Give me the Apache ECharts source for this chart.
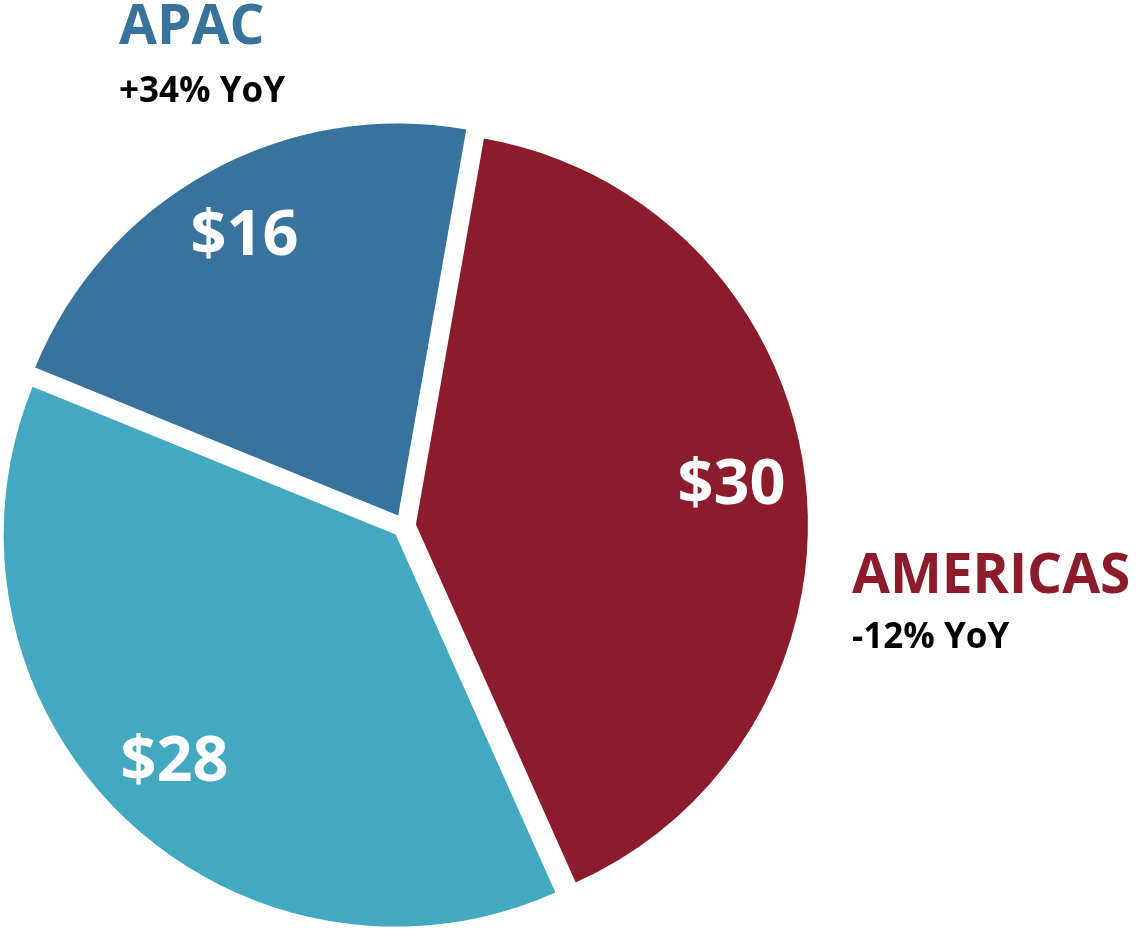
<!DOCTYPE html>
<html>
<head>
<meta charset="utf-8">
<title>Revenue by region</title>
<script src="https://cdn.jsdelivr.net/npm/echarts@6/dist/echarts.min.js"></script>
<style>
  html, body { margin: 0; padding: 0; background: #ffffff; }
  #chart { width: 1141px; height: 930px; }
</style>
</head>
<body>
<div id="chart"></div>
<script>
// Revenue by region ($), with year-over-year change for the called-out regions
const categories = ['AMERICAS', 'EMEA', 'APAC'];
const revenue = [30, 28, 16];
const yoyChange = ['-12% YoY', '', '+34% YoY'];
const sliceColors = ['#8C1C2B', '#42A9C1', '#37739D'];

const FONT = '"Open Sans", Lato, sans-serif';
const CENTER = [404, 526];
const RADIUS = 392;

const chart = echarts.init(document.getElementById('chart'), null, { renderer: 'canvas' });

function sliceData(transparent) {
  return revenue.map((v, i) => ({
    value: v,
    name: categories[i],
    selected: true,
    itemStyle: { color: transparent ? 'rgba(0,0,0,0)' : sliceColors[i] }
  }));
}

const common = {
  type: 'pie',
  center: CENTER,
  startAngle: 80,
  clockwise: true,
  selectedMode: 'multiple',
  selectedOffset: 12,
  avoidLabelOverlap: false,
  silent: true,
  animation: false,
  emphasis: { disabled: true },
  labelLine: { show: false },
  itemStyle: { borderWidth: 0 }
};

// Callout texts beside the slices: region name over its YoY change
const callouts = [
  { idx: 2, x: 119, nameY: 28, yoyY: 92 },
  { idx: 0, x: 852, nameY: 577, yoyY: 638 }
];
const graphic = [];
callouts.forEach(c => {
  graphic.push({
    type: 'text', x: c.x, y: c.nameY, silent: true,
    style: {
      text: categories[c.idx], fill: sliceColors[c.idx],
      fontSize: 55, fontWeight: 'bold', fontFamily: FONT,
      verticalAlign: 'middle', align: 'left'
    }
  });
  graphic.push({
    type: 'text', x: c.x, y: c.yoyY, silent: true,
    style: {
      text: yoyChange[c.idx], fill: '#000000',
      fontSize: 35, fontWeight: 'bold', fontFamily: FONT,
      verticalAlign: 'middle', align: 'left'
    }
  });
});

chart.setOption({
  backgroundColor: '#ffffff',
  animation: false,
  series: [
    Object.assign({}, common, {
      name: 'Revenue',
      radius: [0, RADIUS],
      label: { show: false },
      data: sliceData(false)
    }),
    // value labels placed in the outer part of each slice
    Object.assign({}, common, {
      name: 'Revenue labels',
      radius: [238, RADIUS],
      label: {
        show: true,
        position: 'inside',
        formatter: '${c}',
        color: '#ffffff',
        fontSize: 63,
        fontWeight: 'bold',
        fontFamily: FONT
      },
      data: sliceData(true)
    })
  ],
  graphic: graphic
});
</script>
</body>
</html>
